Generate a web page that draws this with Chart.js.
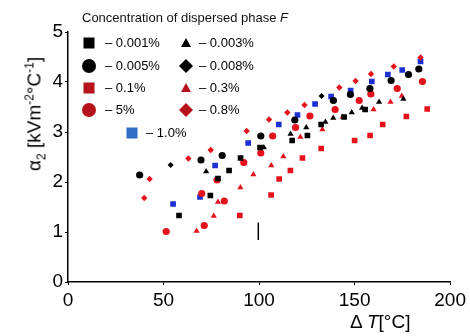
<!DOCTYPE html>
<html>
<head>
<meta charset="utf-8">
<script src="https://cdn.jsdelivr.net/npm/chart.js@4"></script>
<style>
  body { margin: 0; background: #fff; }
  #wrap { position: relative; width: 470px; height: 336px; font-family: "Liberation Sans", Arial, sans-serif; color: #000; }
  canvas { position: absolute; left: 0; top: 0; }
  .lbl { position: absolute; white-space: nowrap; line-height: 16px; font-size: 13px; }
  .mk { position: absolute; }
  #ytitle { position: absolute; left: 36px; top: 114px; transform: translate(-50%, -50%) rotate(-90deg); font-size: 19px; line-height: 19px; white-space: nowrap; }
  #xtitle { position: absolute; left: 350px; top: 312px; font-size: 19px; line-height: 19px; white-space: nowrap; }
  #ytitle sup, #ytitle sub { font-size: 12px; }
</style>
</head>
<body>
<div id="wrap">
  <canvas id="chart" width="470" height="336"></canvas>
  <div class="lbl" style="left:82px;top:10px;color:#111">Concentration of dispersed phase <i>F</i></div>
  <div id="legend"></div>
  <div id="ytitle">α<sub>2</sub> [kVm<sup>-2</sup>°C<sup>-1</sup>]</div>
  <div id="xtitle">Δ <i>T</i>[°C]</div>
</div>
<script>
// x = temperature difference, y = heat transfer coefficient
const sq001X = [58.1, 74.5, 78.5, 84.3, 90.3, 100.5, 117.3, 125.3, 132.5, 144.5, 155.5];
const sq001Y = [1.33, 1.73, 2.07, 2.23, 2.48, 2.69, 2.83, 2.93, 3.15, 3.30, 3.45];

const ci005X = [37.5, 69.6, 80.7, 100.9, 118.7, 138.9, 147.8, 158.0, 169.1, 178.2, 183.6];
const ci005Y = [2.14, 2.44, 2.53, 2.92, 3.24, 3.63, 3.75, 3.87, 4.03, 4.15, 4.26];

const sq01X = [89.9, 106.3, 110.5, 116.4, 122.7, 132.5, 150.0, 158.1, 164.7, 177.1, 188.0];
const sq01Y = [1.33, 1.74, 2.06, 2.23, 2.48, 2.67, 2.83, 2.93, 3.15, 3.31, 3.46];

const ci5X = [51.4, 71.3, 70.0, 81.8, 78.0, 92.0, 100.9, 107.1, 119.1, 126.6, 139.8, 152.4, 158.5, 172.3, 185.5];
const ci5Y = [1.01, 1.13, 1.77, 1.62, 2.04, 2.39, 2.58, 2.92, 3.09, 3.32, 3.45, 3.63, 3.76, 3.87, 4.01];

const tr003X = [72.3, 102.5, 116.5, 124.7, 134.7, 138.8, 148.5, 153.9, 162.8, 175.5];
const tr003Y = [2.21, 2.69, 2.96, 3.09, 3.20, 3.28, 3.39, 3.48, 3.60, 3.66];

const di008X = [53.7, 132.7];
const di008Y = [2.34, 3.72];

const tr03X = [67.3, 76.3, 78.5, 90.2, 97.0, 106.4, 112.7, 121.6, 133.1, 143.7, 159.9, 168.8, 174.7];
const tr03Y = [1.02, 1.32, 1.60, 1.89, 2.15, 2.33, 2.51, 2.90, 3.05, 3.30, 3.45, 3.60, 3.72];

const di08X = [39.9, 42.7, 63.0, 74.7, 93.5, 105.2, 114.8, 123.8, 142.0, 150.5, 158.6, 170.5, 184.5];
const di08Y = [1.68, 2.06, 2.47, 2.64, 3.02, 3.25, 3.39, 3.54, 3.89, 4.02, 4.16, 4.31, 4.49];

const sq10X = [55.0, 69.1, 77.0, 94.3, 110.3, 120.1, 129.3, 137.7, 147.9, 159.0, 167.4, 174.9, 184.5];
const sq10Y = [1.56, 1.70, 2.33, 2.78, 3.15, 3.34, 3.56, 3.71, 3.83, 4.01, 4.15, 4.24, 4.41];

// stray vertical mark in the original figure
const markX = [99.6, 99.6];
const markY = [0.84, 1.19];

const xTicks = [0, 50, 100, 150, 200];
const yTicks = [0, 1, 2, 3, 4, 5];

const RED = '#e3121b';
const BLUE = '#1b2fd2';

function pts(xs, ys) {
    return xs.map((x, i) => ({ x: x, y: ys[i] }));
}

function series(label, xs, ys, color, style, r) {
    return {
        label: label,
        data: pts(xs, ys),
        backgroundColor: color,
        borderColor: color,
        borderWidth: 0,
        pointStyle: style,
        pointRadius: r,
        pointHoverRadius: r
    };
}

const ctx = document.getElementById('chart').getContext('2d');
new Chart(ctx, {
    type: 'scatter',
    data: {
        datasets: [
            series('0.001%', sq001X, sq001Y, '#000', 'rect', 4),
            series('0.005%', ci005X, ci005Y, '#000', 'circle', 3.6),
            series('0.003%', tr003X, tr003Y, '#000', 'triangle', 3.6),
            series('0.008%', di008X, di008Y, '#000', 'rectRot', 3),
            series('0.1%', sq01X, sq01Y, RED, 'rect', 4),
            series('5%', ci5X, ci5Y, RED, 'circle', 3.6),
            series('0.3%', tr03X, tr03Y, RED, 'triangle', 3.6),
            series('0.8%', di08X, di08Y, RED, 'rectRot', 3.2),
            series('1.0%', sq10X, sq10Y, BLUE, 'rect', 4),
            {
                type: 'line',
                label: 'mark',
                data: pts(markX, markY),
                borderColor: '#000',
                borderWidth: 1.5,
                pointRadius: 0
            }
        ]
    },
    options: {
        responsive: false,
        animation: false,
        layout: { padding: { left: 0, right: 18, top: 32, bottom: 0 } },
        plugins: {
            legend: { display: false },
            tooltip: { enabled: false }
        },
        scales: {
            x: {
                type: 'linear',
                min: 0,
                max: 200,
                afterBuildTicks: s => { s.ticks = xTicks.map(v => ({ value: v })); },
                ticks: { color: '#000', font: { family: 'Liberation Sans', size: 19 }, padding: 4 },
                grid: { drawOnChartArea: false, tickLength: 3, color: '#000', lineWidth: 1 },
                border: { color: '#000', width: 1.5 },
                afterFit: s => { s.height = 54; }
            },
            y: {
                type: 'linear',
                min: 0,
                max: 5,
                afterBuildTicks: s => { s.ticks = yTicks.map(v => ({ value: v })); },
                ticks: { color: '#000', font: { family: 'Liberation Sans', size: 19 }, padding: 2 },
                grid: { drawOnChartArea: false, tickLength: 3, color: '#000', lineWidth: 1 },
                border: { color: '#000', width: 1.5 },
                afterFit: s => { s.width = 68; }
            }
        }
    }
});

// legend, laid out like the figure: two columns plus one row below
const LRED = '#b5121b';
const LBLUE = '#2f6cc6';
const legendItems = [
    { shape: 'square', color: '#000', text: '– 0.001%', mx: 89, tx: 105, cy: 43 },
    { shape: 'triangle', color: '#000', text: '– 0.003%', mx: 186, tx: 199, cy: 43 },
    { shape: 'circle', color: '#000', text: '– 0.005%', mx: 89, tx: 105, cy: 66 },
    { shape: 'diamond', color: '#000', text: '– 0.008%', mx: 186, tx: 199, cy: 66 },
    { shape: 'square', color: LRED, text: '– 0.1%', mx: 89, tx: 105, cy: 88 },
    { shape: 'triangle', color: LRED, text: '– 0.3%', mx: 186, tx: 199, cy: 88 },
    { shape: 'circle', color: LRED, text: '– 5%', mx: 89, tx: 105, cy: 110 },
    { shape: 'diamond', color: LRED, text: '– 0.8%', mx: 186, tx: 199, cy: 110 },
    { shape: 'square', color: LBLUE, text: '– 1.0%', mx: 132, tx: 146, cy: 133 }
];

function icon(shape, color) {
    let body = '';
    if (shape === 'square') body = `<rect x="2.5" y="2.5" width="11" height="11" fill="${color}"/>`;
    if (shape === 'circle') body = `<circle cx="8" cy="8" r="7" fill="${color}"/>`;
    if (shape === 'triangle') body = `<polygon points="8,3 13,12 3,12" fill="${color}"/>`;
    if (shape === 'diamond') body = `<polygon points="8,1 15,8 8,15 1,8" fill="${color}"/>`;
    return `<svg width="16" height="16" viewBox="0 0 16 16">${body}</svg>`;
}

const legend = document.getElementById('legend');
legendItems.forEach(it => {
    const m = document.createElement('div');
    m.className = 'mk';
    m.style.left = (it.mx - 8) + 'px';
    m.style.top = (it.cy - 8) + 'px';
    m.innerHTML = icon(it.shape, it.color);
    legend.appendChild(m);
    const t = document.createElement('div');
    t.className = 'lbl';
    t.style.left = it.tx + 'px';
    t.style.top = (it.cy - 8) + 'px';
    t.textContent = it.text;
    legend.appendChild(t);
});
</script>
</body>
</html>
